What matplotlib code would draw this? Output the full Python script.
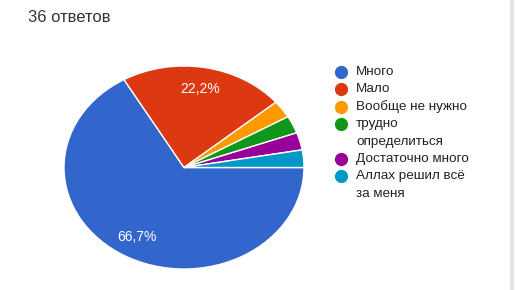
import matplotlib.pyplot as plt
from matplotlib.lines import Line2D

labels = ["Много", "Мало", "Вообще не нужно", "трудно\nопределиться",
          "Достаточно много", "Аллах решил всё\nза меня"]
counts = [24, 8, 1, 1, 1, 1]
colors = ["#3366CC", "#DC3912", "#FF9900", "#109618", "#990099", "#0099C6"]
title = "36 ответов"

W, H = 516, 290
plt.rcParams['font.family'] = ['Liberation Sans', 'DejaVu Sans']

fig = plt.figure(figsize=(W / 100, H / 100), dpi=100)

# pie is slightly squashed in the reference, so the axes is not square
ax = fig.add_axes([64 / W, (H - 269) / H, 240 / W, 203 / H])


def pct_label(p):
    return f"{p:.1f}%".replace(".", ",") if p > 10 else ""


wedges, _, autotexts = ax.pie(
    counts, colors=colors, startangle=0, counterclock=False,
    autopct=pct_label, pctdistance=0.79,
    wedgeprops=dict(edgecolor="white", linewidth=1.0),
    textprops=dict(color="white", fontsize=10))
ax.set_aspect("auto")
ax.set_xlim(-1, 1)
ax.set_ylim(-1, 1)

fig.text(28 / W, 1 - 18 / H, title, fontsize=12, color="#333333",
         ha="left", va="center")

# legend drawn by hand to match the layout
y = 72
step = 17.4
for lab, col in zip(labels, colors):
    fig.add_artist(Line2D([341 / W], [1 - y / H], marker="o", markersize=8.5,
                          color=col, transform=fig.transFigure))
    for i, line in enumerate(lab.split("\n")):
        fig.text(356 / W, 1 - (y + i * step) / H, line, fontsize=9.7,
                 color="#222222", ha="left", va="center")
    y += len(lab.split("\n")) * step

# light gray border at the right edge
fig.add_artist(Line2D([512 / W, 512 / W], [0, 1], color="#e4e4e4",
                      linewidth=3, transform=fig.transFigure))

fig.savefig("out.png", dpi=100, facecolor="white")
